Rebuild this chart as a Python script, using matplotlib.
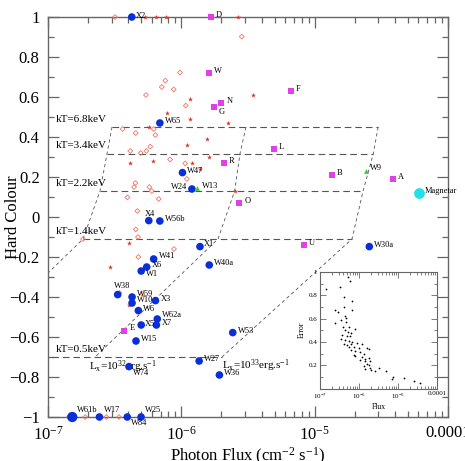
import numpy as np
import matplotlib.pyplot as plt
from matplotlib.ticker import FixedLocator, MultipleLocator, FuncFormatter, LogLocator, NullFormatter

plt.rcParams['font.family'] = ['Liberation Serif', 'DejaVu Serif']
plt.rcParams['mathtext.fontset'] = 'custom'
plt.rcParams['mathtext.rm'] = 'Liberation Serif'
plt.rcParams['mathtext.it'] = 'Liberation Serif:italic'

# ---- data ----
blue_names = ['X2', 'W65', 'W47', 'W24', 'X4', 'W56b', 'X1', 'W40a', 'W41', 'X6', 'W1',
              'W38', 'W59', 'W10', 'X3', 'W6', 'W62a', 'X5', 'X7', 'W15', 'W74', 'W27',
              'W36', 'W53', 'W30a', 'W61b', 'W17', 'W84', 'W25']
blue_flux = [4.25e-7, 6.9e-7, 1.02e-6, 1.2e-6, 5.7e-7, 6.9e-7, 1.38e-6, 1.62e-6, 6.2e-7, 5.5e-7, 5.0e-7,
             3.33e-7, 4.27e-7, 4.27e-7, 6.4e-7, 4.76e-7, 6.6e-7, 5.0e-7, 6.5e-7, 4.57e-7, 4.05e-7, 1.36e-6,
             1.93e-6, 2.43e-6, 2.57e-5, 1.52e-7, 2.43e-7, 3.93e-7, 4.99e-7]
blue_hc = [1.0, 0.47, 0.222, 0.14, -0.018, -0.02, -0.148, -0.24, -0.21, -0.25, -0.27,
           -0.388, -0.40, -0.43, -0.418, -0.468, -0.51, -0.54, -0.54, -0.62, -0.748, -0.72,
           -0.79, -0.578, -0.148, -1.0, -1.0, -1.0, -1.0]

mag_names = ['D', 'W', 'N', 'G', 'R', 'F', 'L', 'B', 'A', 'O', 'U', 'E']
mag_flux = [1.67e-6, 1.61e-6, 2.0e-6, 1.77e-6, 2.08e-6, 6.65e-6, 4.93e-6, 1.35e-5, 3.85e-5, 2.72e-6, 8.3e-6, 3.74e-7]
mag_hc = [1.0, 0.722, 0.568, 0.552, 0.272, 0.632, 0.34, 0.212, 0.19, 0.07, -0.138, -0.568]

green_names = ['W13', 'W9']
green_flux = [1.32e-6, 2.44e-5]
green_hc = [0.143, 0.23]

mgn_names = ['Magnetar']
mgn_flux = [6.1e-5]
mgn_hc = [0.122]

red_flux = [1.17e-6, 7.77e-7, 1.16e-6, 2.25e-6, 5.75e-7, 1.55e-6, 1.10e-6, 1.60e-6, 4.14e-7, 6.17e-7,
            1.20e-6, 1.38e-6, 2.54e-6, 3.47e-6, 2.66e-6, 5.35e-7, 6.46e-7, 7.67e-7, 4.05e-7, 2.93e-7, 4.05e-7]
red_hc = [0.588, 0.518, 0.49, 0.47, 0.45, 0.39, 0.358, 0.30, 0.268, 0.278,
          0.268, 0.24, 0.13, 0.61, 1.0, 1.0, 1.0, 1.0, -0.128, -0.25, -0.44]

open_flux = [9.77e-7, 7.59e-7, 7.13e-7, 8.77e-7, 5.43e-7, 1.08e-6, 3.63e-7, 4.55e-7, 6.21e-7, 6.38e-7,
             4.14e-7, 4.96e-7, 5.46e-7, 5.85e-7, 8.23e-7, 1.07e-6, 1.10e-6, 4.42e-7, 4.52e-7, 5.75e-7,
             6.0e-7, 3.94e-7, 6.77e-7, 4.68e-7, 2.84e-6, 4.55e-7, 4.73e-7, 1.83e-7, 8.81e-7, 4.76e-7,
             3.43e-7, 5.1e-7, 1.44e-7, 1.9e-7, 2.74e-7, 3.41e-7, 3.18e-7]
open_hc = [0.722, 0.682, 0.65, 0.638, 0.61, 0.557, 0.44, 0.42, 0.44, 0.41,
           0.33, 0.32, 0.33, 0.352, 0.288, 0.268, 0.19, 0.15, 0.17, 0.15,
           0.13, 0.098, 0.09, 0.03, 0.902, -0.062, -0.10, -0.11, -0.16, -0.20,
           -0.38, -0.385, -1.0, -1.0, -1.0, -1.0, 1.0]

# model grid: hardness for each kT, log flux for each Lx
kt_labels = ['kT=6.8keV', 'kT=3.4keV', 'kT=2.2keV', 'kT=1.4keV', 'kT=0.5keV']
kt_hc = [0.45, 0.317, 0.13, -0.11, -0.70]
kt_label_hc = [0.49, 0.358, 0.17, -0.073, -0.662]
lx31_logf = [-6.52, -6.557, -6.61, -6.737, -7.65]
lx32_logf = [-5.515, -5.56, -5.60, -5.725, -6.647]
lx33_logf = [-4.524, -4.56, -4.637, -4.72, -5.695]

# inset: error vs flux
ins_logf = [-6.838, -6.495, -6.282, -6.24, -6.39, -6.18, -6.62, -6.54, -6.377, -6.18,
            -6.37, -6.34, -6.45, -6.61, -6.325, -6.41, -6.256, -6.095, -6.35, -6.28,
            -6.197, -6.436, -6.316, -6.22, -6.45, -6.35, -6.265, -6.18, -6.39, -6.31,
            -6.197, -6.05, -5.92, -6.25, -6.136, -6.01, -5.795, -5.75, -6.197, -6.095,
            -5.966, -5.88, -6.136, -6.095, -5.92, -5.838, -5.735, -5.966, -5.838, -5.71,
            -5.795, -5.75, -5.88, -5.71, -5.838, -5.684, -5.58, -5.495, -5.31, -5.13,
            -5.15, -4.855, -4.6, -4.43]
ins_err = [0.857, 0.869, 0.957, 0.923, 0.785, 0.749, 0.677, 0.657, 0.70, 0.671,
           0.622, 0.605, 0.59, 0.565, 0.571, 0.528, 0.528, 0.513, 0.505, 0.485,
           0.479, 0.457, 0.451, 0.451, 0.428, 0.414, 0.408, 0.40, 0.385, 0.376,
           0.382, 0.39, 0.385, 0.356, 0.356, 0.348, 0.348, 0.336, 0.328, 0.319,
           0.313, 0.299, 0.29, 0.279, 0.27, 0.256, 0.264, 0.242, 0.233, 0.233,
           0.213, 0.199, 0.193, 0.176, 0.165, 0.156, 0.148, 0.176, 0.153, 0.099,
           0.084, 0.09, 0.062, 0.047]

# label offsets in pixels (default right of the point)
offs = {'X2': (4, 1), 'W24': (-5, 2), 'X4': (-4, 7), 'X1': (4, 3), 'W41': (5, 3), 'W1': (5, -3),
        'W38': (-4, 9), 'W59': (5, 3), 'W10': (5, 3), 'W62a': (5, 4), 'X5': (4, 1), 'W74': (4, -6),
        'W61b': (5, 7), 'W17': (5, 7), 'W84': (4, -6), 'W25': (4, 7), 'G': (4, -5), 'W9': (4, 3),
        'E': (5, 3)}

fig = plt.figure(figsize=(4.65, 4.61), dpi=100)
ax = fig.add_axes([48/465, 1-417/461, 400/465, 400/461])
ax.set_xscale('log')
ax.set_xlim(1e-7, 1e-4)
ax.set_ylim(-1, 1)

gcol = '#555555'
for i in range(len(kt_hc)):
    ax.plot([10**lx31_logf[i], 10**lx33_logf[i]], [kt_hc[i], kt_hc[i]], color=gcol, lw=0.8, dashes=(6, 3.5))
    ax.text(1.15e-7, kt_label_hc[i], kt_labels[i], fontsize=8, va='center', ha='left')
for lf in [lx31_logf, lx32_logf, lx33_logf]:
    ax.plot(10**np.array(lf), kt_hc, color=gcol, lw=0.6, dashes=(4, 3.5))
ax.text(2.03e-7, -0.75, r'L$_{\rm x}$=10$^{32}$erg.s$^{-1}$', fontsize=8, va='center')
ax.text(2.02e-6, -0.745, r'L$_{\rm x}$=10$^{33}$erg.s$^{-1}$', fontsize=8, va='center')

ax.scatter(open_flux, open_hc, marker='D', s=6, facecolors='none', edgecolors='#ee7766', lw=0.6, zorder=3, clip_on=False)
ax.scatter(red_flux, red_hc, marker='*', s=14, color='#e03020', lw=0, zorder=3, clip_on=False)
sizes = [55 if n == 'W61b' else 30 for n in blue_names]
ax.scatter(blue_flux, blue_hc, s=sizes, color='#0a2ed8', lw=0, zorder=4, clip_on=False)
ax.scatter(mag_flux, mag_hc, marker='s', s=14, color='#e040e8', lw=0, zorder=4, clip_on=False)
ax.scatter(green_flux, green_hc, marker='^', s=12, color='#30d030', lw=0, zorder=4, clip_on=False)
ax.scatter(mgn_flux, mgn_hc, s=60, color='#22e0e8', lw=0, zorder=4, clip_on=False)

for names, fl, hc in [(blue_names, blue_flux, blue_hc), (mag_names, mag_flux, mag_hc),
                      (green_names, green_flux, green_hc), (mgn_names, mgn_flux, mgn_hc)]:
    for n, f, h in zip(names, fl, hc):
        dx, dy = offs.get(n, (5, 2))
        ax.annotate(n, (f, h), xytext=(dx, dy), textcoords='offset pixels', fontsize=6,
                    va='center', ha='right' if dx < 0 and n == 'W24' else 'left',
                    annotation_clip=False, zorder=5)

# axes styling
for s in ax.spines.values():
    s.set_color('#666666')
    s.set_linewidth(1.0)
ax.tick_params(which='both', direction='in', top=True, right=True, color='#666666', labelsize=12)
ax.tick_params(which='major', length=8, width=0.9, pad=6)
ax.tick_params(which='minor', length=4, width=0.9)
ax.xaxis.set_major_locator(FixedLocator([1e-7, 1e-6, 1e-5, 1e-4]))
ax.xaxis.set_major_formatter(FuncFormatter(lambda v, p: ['$10^{-7}$', '$10^{-6}$', '$10^{-5}$', '0.0001'][p] if p is not None and p < 4 else ''))
ax.xaxis.set_minor_locator(LogLocator(base=10, subs=np.arange(2, 10)))
ax.xaxis.set_minor_formatter(NullFormatter())
ax.yaxis.set_major_locator(MultipleLocator(0.2))
ax.yaxis.set_minor_locator(MultipleLocator(0.1))
ax.yaxis.set_major_formatter(FuncFormatter(lambda v, p: ('%g' % round(v, 2)).replace('-', '\u2212') if abs(v) > 1e-9 else '0'))
ax.set_xlabel(r'Photon Flux (cm$^{-2}$ s$^{-1}$)', fontsize=12)
ax.xaxis.set_label_coords(0.5, -0.072)
fig.text(13/465, 1-217/461, 'Hard Colour', fontsize=12, rotation=90, ha='center', va='center')

# inset
ins = fig.add_axes([320/465, 1-388.5/461, 117/465, 116.5/461])
ins.set_xscale('log')
ins.set_xlim(1e-7, 1e-4)
ins.set_ylim(0, 1)
ins.scatter(10**np.array(ins_logf), ins_err, marker='+', s=3, color='black', lw=0.5)
for s in ins.spines.values():
    s.set_color('#666666')
    s.set_linewidth(0.8)
ins.tick_params(which='both', direction='in', top=True, right=True, color='#666666', labelsize=5, pad=2)
ins.tick_params(which='major', length=4, width=0.6)
ins.tick_params(which='minor', length=2, width=0.6)
ins.xaxis.set_major_locator(FixedLocator([1e-7, 1e-6, 1e-5, 1e-4]))
ins.xaxis.set_major_formatter(FuncFormatter(lambda v, p: ['$10^{-7}$', '$10^{-6}$', '$10^{-5}$', '0.0001'][p] if p is not None and p < 4 else ''))
ins.xaxis.set_minor_locator(LogLocator(base=10, subs=np.arange(2, 10)))
ins.xaxis.set_minor_formatter(NullFormatter())
ins.yaxis.set_major_locator(FixedLocator([0.2, 0.4, 0.6, 0.8, 1.0]))
ins.yaxis.set_major_formatter(FuncFormatter(lambda v, p: '%g' % round(v, 2)))
ins.yaxis.set_minor_locator(MultipleLocator(0.1))
ins.set_xlabel('Flux', fontsize=5.5, labelpad=2)
ins.set_ylabel('Error', fontsize=5.5, labelpad=2)

fig.savefig('out.png', dpi=100)
